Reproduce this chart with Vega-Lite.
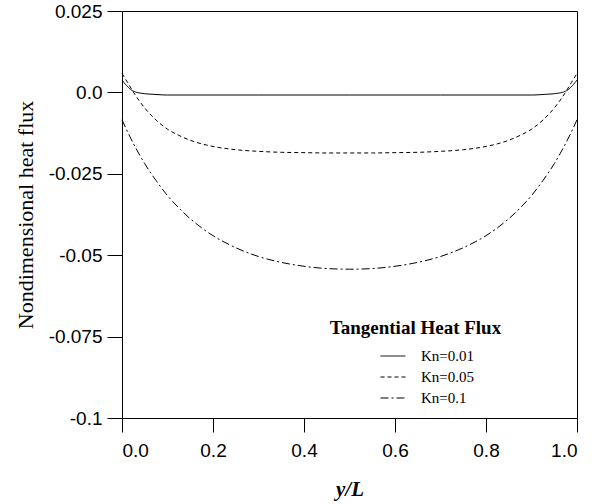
{
  "$schema": "https://vega.github.io/schema/vega-lite/v6.json",
  "width": 455,
  "height": 407,
  "autosize": {"type": "none"},
  "padding": {"left": 122, "top": 11, "right": 34, "bottom": 86},
  "background": "white",
  "config": {
    "view": {"stroke": "black", "strokeWidth": 1},
    "axis": {
      "domainColor": "black",
      "tickColor": "black",
      "labelColor": "black",
      "titleColor": "black",
      "grid": false,
      "labelFont": "Liberation Sans",
      "labelFontSize": 19
    }
  },
  "layer": [
    {
      "data": {
        "values": [
          {"x": 0, "q": 0.0038, "Kn": "Kn=0.01"},
          {"x": 0.01, "q": 0.0021, "Kn": "Kn=0.01"},
          {"x": 0.02, "q": 0.0008, "Kn": "Kn=0.01"},
          {"x": 0.03, "q": 0.0001, "Kn": "Kn=0.01"},
          {"x": 0.04, "q": -0.0002, "Kn": "Kn=0.01"},
          {"x": 0.05, "q": -0.0004, "Kn": "Kn=0.01"},
          {"x": 0.07, "q": -0.0006, "Kn": "Kn=0.01"},
          {"x": 0.1, "q": -0.0008, "Kn": "Kn=0.01"},
          {"x": 0.3, "q": -0.0008, "Kn": "Kn=0.01"},
          {"x": 0.5, "q": -0.0008, "Kn": "Kn=0.01"},
          {"x": 0.7, "q": -0.0008, "Kn": "Kn=0.01"},
          {"x": 0.9, "q": -0.0008, "Kn": "Kn=0.01"},
          {"x": 0.93, "q": -0.0006, "Kn": "Kn=0.01"},
          {"x": 0.95, "q": -0.0004, "Kn": "Kn=0.01"},
          {"x": 0.96, "q": -0.0002, "Kn": "Kn=0.01"},
          {"x": 0.97, "q": 0.0001, "Kn": "Kn=0.01"},
          {"x": 0.98, "q": 0.0008, "Kn": "Kn=0.01"},
          {"x": 0.99, "q": 0.0021, "Kn": "Kn=0.01"},
          {"x": 1.0, "q": 0.0038, "Kn": "Kn=0.01"},

          {"x": 0, "q": 0.0058, "Kn": "Kn=0.05"},
          {"x": 0.0125, "q": 0.0030, "Kn": "Kn=0.05"},
          {"x": 0.025, "q": 0.0001, "Kn": "Kn=0.05"},
          {"x": 0.0375, "q": -0.0025, "Kn": "Kn=0.05"},
          {"x": 0.05, "q": -0.0048, "Kn": "Kn=0.05"},
          {"x": 0.075, "q": -0.0085, "Kn": "Kn=0.05"},
          {"x": 0.1, "q": -0.0113, "Kn": "Kn=0.05"},
          {"x": 0.125, "q": -0.0132, "Kn": "Kn=0.05"},
          {"x": 0.15, "q": -0.0147, "Kn": "Kn=0.05"},
          {"x": 0.175, "q": -0.0158, "Kn": "Kn=0.05"},
          {"x": 0.2, "q": -0.0166, "Kn": "Kn=0.05"},
          {"x": 0.25, "q": -0.0176, "Kn": "Kn=0.05"},
          {"x": 0.3, "q": -0.0181, "Kn": "Kn=0.05"},
          {"x": 0.35, "q": -0.0184, "Kn": "Kn=0.05"},
          {"x": 0.4, "q": -0.0185, "Kn": "Kn=0.05"},
          {"x": 0.45, "q": -0.0186, "Kn": "Kn=0.05"},
          {"x": 0.5, "q": -0.0186, "Kn": "Kn=0.05"},
          {"x": 0.55, "q": -0.0186, "Kn": "Kn=0.05"},
          {"x": 0.6, "q": -0.0185, "Kn": "Kn=0.05"},
          {"x": 0.65, "q": -0.0184, "Kn": "Kn=0.05"},
          {"x": 0.7, "q": -0.0181, "Kn": "Kn=0.05"},
          {"x": 0.75, "q": -0.0176, "Kn": "Kn=0.05"},
          {"x": 0.8, "q": -0.0166, "Kn": "Kn=0.05"},
          {"x": 0.825, "q": -0.0158, "Kn": "Kn=0.05"},
          {"x": 0.85, "q": -0.0147, "Kn": "Kn=0.05"},
          {"x": 0.875, "q": -0.0132, "Kn": "Kn=0.05"},
          {"x": 0.9, "q": -0.0113, "Kn": "Kn=0.05"},
          {"x": 0.925, "q": -0.0085, "Kn": "Kn=0.05"},
          {"x": 0.95, "q": -0.0048, "Kn": "Kn=0.05"},
          {"x": 0.9625, "q": -0.0025, "Kn": "Kn=0.05"},
          {"x": 0.975, "q": 0.0001, "Kn": "Kn=0.05"},
          {"x": 0.9875, "q": 0.0030, "Kn": "Kn=0.05"},
          {"x": 1.0, "q": 0.0058, "Kn": "Kn=0.05"},

          {"x": 0, "q": -0.0084, "Kn": "Kn=0.1"},
          {"x": 0.0125, "q": -0.0122, "Kn": "Kn=0.1"},
          {"x": 0.025, "q": -0.0157, "Kn": "Kn=0.1"},
          {"x": 0.0375, "q": -0.0189, "Kn": "Kn=0.1"},
          {"x": 0.05, "q": -0.0219, "Kn": "Kn=0.1"},
          {"x": 0.075, "q": -0.0271, "Kn": "Kn=0.1"},
          {"x": 0.1, "q": -0.0317, "Kn": "Kn=0.1"},
          {"x": 0.125, "q": -0.0355, "Kn": "Kn=0.1"},
          {"x": 0.15, "q": -0.0388, "Kn": "Kn=0.1"},
          {"x": 0.175, "q": -0.0416, "Kn": "Kn=0.1"},
          {"x": 0.2, "q": -0.0440, "Kn": "Kn=0.1"},
          {"x": 0.25, "q": -0.0477, "Kn": "Kn=0.1"},
          {"x": 0.3, "q": -0.0504, "Kn": "Kn=0.1"},
          {"x": 0.35, "q": -0.0522, "Kn": "Kn=0.1"},
          {"x": 0.4, "q": -0.0534, "Kn": "Kn=0.1"},
          {"x": 0.45, "q": -0.0541, "Kn": "Kn=0.1"},
          {"x": 0.5, "q": -0.0543, "Kn": "Kn=0.1"},
          {"x": 0.55, "q": -0.0541, "Kn": "Kn=0.1"},
          {"x": 0.6, "q": -0.0534, "Kn": "Kn=0.1"},
          {"x": 0.65, "q": -0.0522, "Kn": "Kn=0.1"},
          {"x": 0.7, "q": -0.0504, "Kn": "Kn=0.1"},
          {"x": 0.75, "q": -0.0477, "Kn": "Kn=0.1"},
          {"x": 0.8, "q": -0.0440, "Kn": "Kn=0.1"},
          {"x": 0.825, "q": -0.0416, "Kn": "Kn=0.1"},
          {"x": 0.85, "q": -0.0388, "Kn": "Kn=0.1"},
          {"x": 0.875, "q": -0.0355, "Kn": "Kn=0.1"},
          {"x": 0.9, "q": -0.0317, "Kn": "Kn=0.1"},
          {"x": 0.925, "q": -0.0271, "Kn": "Kn=0.1"},
          {"x": 0.95, "q": -0.0219, "Kn": "Kn=0.1"},
          {"x": 0.9625, "q": -0.0189, "Kn": "Kn=0.1"},
          {"x": 0.975, "q": -0.0157, "Kn": "Kn=0.1"},
          {"x": 0.9875, "q": -0.0122, "Kn": "Kn=0.1"},
          {"x": 1.0, "q": -0.0084, "Kn": "Kn=0.1"}
        ]
      },
      "mark": {"type": "line", "color": "black", "strokeWidth": 1, "interpolate": "monotone"},
      "encoding": {
        "x": {
          "field": "x",
          "type": "quantitative",
          "scale": {"domain": [0, 1], "nice": false, "zero": false},
          "axis": {
            "values": [0, 0.2, 0.4, 0.6, 0.8, 1.0],
            "format": ".1f",
            "tickSize": 14,
            "labelPadding": 9,
            "title": "y/L",
            "titleFont": "Liberation Serif",
            "titleFontSize": 21,
            "titleFontWeight": "bold",
            "titleFontStyle": "italic",
            "titleY": 77,
            "titleBaseline": "alphabetic"
          }
        },
        "y": {
          "field": "q",
          "type": "quantitative",
          "scale": {"domain": [-0.1, 0.025], "nice": false, "zero": false},
          "axis": {
            "values": [-0.1, -0.075, -0.05, -0.025, 0, 0.025],
            "labelExpr": "datum.value == 0 ? '0.0' : '' + datum.value",
            "tickSize": 15,
            "labelPadding": 5,
            "title": "Nondimensional heat flux",
            "titleFont": "Liberation Serif",
            "titleFontSize": 22,
            "titleFontWeight": "normal",
            "titleX": -97,
            "titleY": 203.5,
            "titleAngle": -90,
            "titleAlign": "center",
            "titleBaseline": "middle"
          }
        },
        "strokeDash": {
          "field": "Kn",
          "type": "nominal",
          "scale": {"domain": ["Kn=0.01", "Kn=0.05", "Kn=0.1"], "range": [[1, 0], [4, 3], [8, 3, 2, 3]]},
          "legend": {
            "title": null,
            "orient": "none",
            "legendX": 258,
            "legendY": 332,
            "padding": 0,
            "symbolType": "stroke",
            "symbolSize": 625,
            "symbolStrokeWidth": 1,
            "symbolStrokeColor": "black",
            "rowPadding": -6.5,
            "labelFont": "Liberation Serif",
            "labelFontSize": 15,
            "labelColor": "black",
            "labelOffset": 15
          }
        }
      }
    },
    {
      "data": {"values": [{"x": 0.645, "q": -0.0725, "t": "Tangential Heat Flux"}]},
      "mark": {"type": "text", "font": "Liberation Serif", "fontSize": 19, "fontWeight": "bold", "color": "black", "align": "center", "baseline": "middle"},
      "encoding": {
        "x": {"field": "x", "type": "quantitative"},
        "y": {"field": "q", "type": "quantitative"},
        "text": {"field": "t", "type": "nominal"}
      }
    }
  ]
}
